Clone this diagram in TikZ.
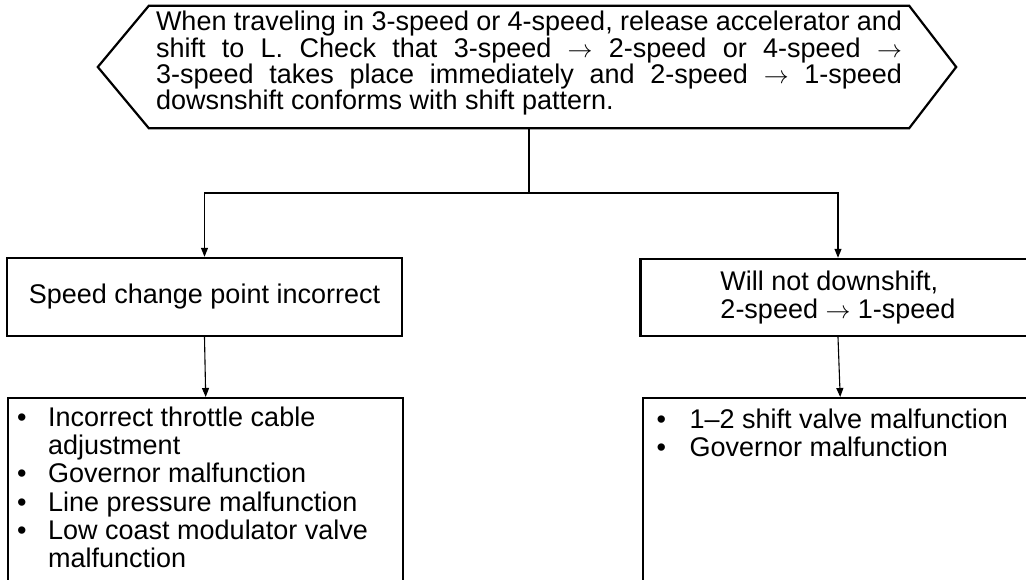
\documentclass[tikz,border=0pt]{standalone}
\usepackage{fontspec}
\setmainfont{Liberation Sans}
\usetikzlibrary{arrows.meta,calc}
\tikzset{
  hexline/.style={line width=2.2pt, line join=miter},
  box/.style={draw, line width=2.4pt, inner sep=0pt, font=\fontsize{27}{28.3}\selectfont},
  conn/.style={line width=1.1pt},
  arr/.style={conn, -{Triangle[length=9pt,width=7pt]}},
}
\newcommand\blt[1]{\makebox[#1][l]{\textbullet}}
\begin{document}
\begin{tikzpicture}[x=1pt,y=-1pt]
\useasboundingbox (0,0) rectangle (1026,580);
% top hexagon
\node[inner sep=0pt, minimum width=760pt, minimum height=122pt, font=\fontsize{27}{23}\selectfont] (hex) at (529,67)
 {\parbox[c][122pt][t]{746pt}{\parindent=0pt\rule{0pt}{25pt}%
  \makebox[746pt][s]{When traveling in 3-speed or 4-speed, release accelerator and}\\
  \makebox[746pt][s]{shift to L. Check that 3-speed $\rightarrow$ 2-speed or 4-speed $\rightarrow$}\\
  \makebox[746pt][s]{3-speed takes place immediately and 2-speed $\rightarrow$ 1-speed}\\
  dowsnshift conforms with shift pattern.}};
\draw[hexline] (hex.north west) -- (hex.north east) -- ($(hex.east)+(47,0)$) -- (hex.south east)
  -- (hex.south west) -- ($(hex.west)+(-51,0)$) -- cycle;
% boxes
\node[box, minimum width=395pt, minimum height=78pt] (b1) at (204.5,297) {Speed change point incorrect};
\node[box, minimum width=395pt, minimum height=77pt, align=left] (b2) at (838,297.5) {Will not downshift,\\2-speed $\rightarrow$ 1-speed};
\node[box, anchor=north west] (b3) at (7,397)
 {\begin{minipage}[c][205pt][t]{395pt}\leftskip=9pt\parindent=0pt\rule{0pt}{28pt}%
  \blt{31pt}Incorrect throttle cable\\
  \hspace*{31pt}adjustment\\
  \blt{31pt}Governor malfunction\\
  \blt{31pt}Line pressure malfunction\\
  \blt{31pt}Low coast modulator valve\\
  \hspace*{31pt}malfunction
  \end{minipage}};
\node[box, anchor=north west] (b4) at (641.5,397)
 {\begin{minipage}[c][205pt][t]{395pt}\leftskip=14pt\parindent=0pt\rule{0pt}{30pt}%
  \blt{33pt}1--2 shift valve malfunction\\
  \blt{33pt}Governor malfunction
  \end{minipage}};
% connectors
\coordinate (j) at (529,193);
\draw[conn] (hex.south) -- (j);
\draw[arr] (j) -| (b1.north);
\draw[arr] (j) -| (b2.north);
\draw[arr] (b1.south) -- (b3.north);
\draw[arr] (b2.south) -- (b4.north);
\end{tikzpicture}
\end{document}
